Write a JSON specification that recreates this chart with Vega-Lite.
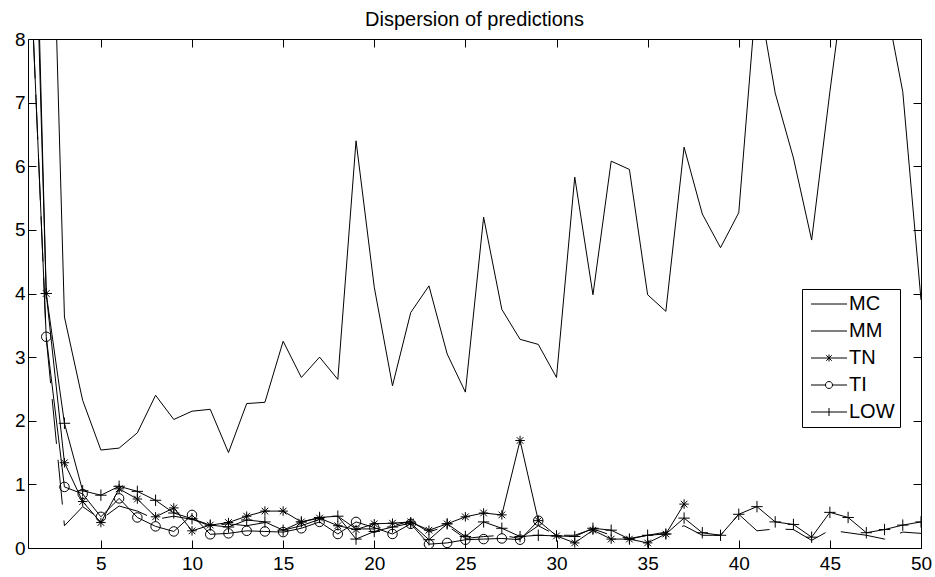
{
  "$schema": "https://vega.github.io/schema/vega-lite/v6.json",
  "autosize": {"type": "none"},
  "padding": {"left": 28, "top": 39, "right": 14, "bottom": 29},
  "width": 893,
  "height": 509,
  "background": "white",
  "title": {"text": "Dispersion of predictions", "font": "Liberation Sans", "fontSize": 20, "fontWeight": "normal", "color": "black", "offset": 0},
  "config": {
    "view": {"stroke": "black", "strokeWidth": 1},
    "axis": {"grid": false, "domain": false, "ticks": true, "zindex": 1, "tickColor": "black", "tickOpacity": 1, "tickSize": -8, "tickWidth": 1, "labelColor": "black", "labelFont": "Liberation Sans", "labelFontSize": 19, "labelFlush": false, "labelOverlap": false, "title": null}
  },
  "data": {"values": [
    {"x":1,"s":"MC","y":20},{"x":2,"s":"MC","y":13.9},{"x":3,"s":"MC","y":3.63},{"x":4,"s":"MC","y":2.32},{"x":5,"s":"MC","y":1.54},{"x":6,"s":"MC","y":1.57},{"x":7,"s":"MC","y":1.81},{"x":8,"s":"MC","y":2.4},{"x":9,"s":"MC","y":2.02},{"x":10,"s":"MC","y":2.15},
    {"x":11,"s":"MC","y":2.18},{"x":12,"s":"MC","y":1.5},{"x":13,"s":"MC","y":2.27},{"x":14,"s":"MC","y":2.29},{"x":15,"s":"MC","y":3.25},{"x":16,"s":"MC","y":2.68},{"x":17,"s":"MC","y":3.0},{"x":18,"s":"MC","y":2.65},{"x":19,"s":"MC","y":6.4},{"x":20,"s":"MC","y":4.1},
    {"x":21,"s":"MC","y":2.55},{"x":22,"s":"MC","y":3.7},{"x":23,"s":"MC","y":4.12},{"x":24,"s":"MC","y":3.05},{"x":25,"s":"MC","y":2.45},{"x":26,"s":"MC","y":5.2},{"x":27,"s":"MC","y":3.75},{"x":28,"s":"MC","y":3.28},{"x":29,"s":"MC","y":3.2},{"x":30,"s":"MC","y":2.68},
    {"x":31,"s":"MC","y":5.83},{"x":32,"s":"MC","y":3.98},{"x":33,"s":"MC","y":6.08},{"x":34,"s":"MC","y":5.95},{"x":35,"s":"MC","y":3.98},{"x":36,"s":"MC","y":3.72},{"x":37,"s":"MC","y":6.3},{"x":38,"s":"MC","y":5.25},{"x":39,"s":"MC","y":4.72},{"x":40,"s":"MC","y":5.27},
    {"x":41,"s":"MC","y":8.82},{"x":42,"s":"MC","y":7.15},{"x":43,"s":"MC","y":6.13},{"x":44,"s":"MC","y":4.84},{"x":45,"s":"MC","y":7.17},{"x":46,"s":"MC","y":9.35},{"x":47,"s":"MC","y":10},{"x":48,"s":"MC","y":8.67},{"x":49,"s":"MC","y":7.17},{"x":50,"s":"MC","y":3.9},

    {"x":1,"s":"MM","y":10},{"x":2,"s":"MM","y":3.3},{"x":3,"s":"MM","y":0.35},{"x":4,"s":"MM","y":0.65},{"x":5,"s":"MM","y":0.45},{"x":6,"s":"MM","y":0.66},{"x":7,"s":"MM","y":0.58},{"x":8,"s":"MM","y":0.45},{"x":9,"s":"MM","y":0.5},{"x":10,"s":"MM","y":0.45},
    {"x":11,"s":"MM","y":0.35},{"x":12,"s":"MM","y":0.38},{"x":13,"s":"MM","y":0.35},{"x":14,"s":"MM","y":0.4},{"x":15,"s":"MM","y":0.28},{"x":16,"s":"MM","y":0.35},{"x":17,"s":"MM","y":0.45},{"x":18,"s":"MM","y":0.5},{"x":19,"s":"MM","y":0.3},{"x":20,"s":"MM","y":0.3},
    {"x":21,"s":"MM","y":0.35},{"x":22,"s":"MM","y":0.42},{"x":23,"s":"MM","y":0.25},{"x":24,"s":"MM","y":0.35},{"x":25,"s":"MM","y":0.15},{"x":26,"s":"MM","y":0.18},{"x":27,"s":"MM","y":0.2},{"x":28,"s":"MM","y":0.15},{"x":29,"s":"MM","y":0.35},{"x":30,"s":"MM","y":0.2},
    {"x":31,"s":"MM","y":0.2},{"x":32,"s":"MM","y":0.3},{"x":33,"s":"MM","y":0.2},{"x":34,"s":"MM","y":0.15},{"x":35,"s":"MM","y":0.2},{"x":36,"s":"MM","y":0.25},{"x":37,"s":"MM","y":0.35},{"x":38,"s":"MM","y":0.2},{"x":39,"s":"MM","y":0.2},{"x":40,"s":"MM","y":0.53},
    {"x":41,"s":"MM","y":0.27},{"x":42,"s":"MM","y":0.3},{"x":43,"s":"MM","y":0.29},{"x":44,"s":"MM","y":0.12},{"x":45,"s":"MM","y":0.28},{"x":46,"s":"MM","y":0.24},{"x":47,"s":"MM","y":0.2},{"x":48,"s":"MM","y":0.14},{"x":49,"s":"MM","y":0.25},{"x":50,"s":"MM","y":0.23},

    {"x":1,"s":"TN","y":15},{"x":2,"s":"TN","y":4.0},{"x":3,"s":"TN","y":1.34},{"x":4,"s":"TN","y":0.73},{"x":5,"s":"TN","y":0.4},{"x":6,"s":"TN","y":0.93},{"x":7,"s":"TN","y":0.77},{"x":8,"s":"TN","y":0.49},{"x":9,"s":"TN","y":0.63},{"x":10,"s":"TN","y":0.27},
    {"x":11,"s":"TN","y":0.36},{"x":12,"s":"TN","y":0.4},{"x":13,"s":"TN","y":0.5},{"x":14,"s":"TN","y":0.58},{"x":15,"s":"TN","y":0.58},{"x":16,"s":"TN","y":0.41},{"x":17,"s":"TN","y":0.47},{"x":18,"s":"TN","y":0.35},{"x":19,"s":"TN","y":0.29},{"x":20,"s":"TN","y":0.38},
    {"x":21,"s":"TN","y":0.39},{"x":22,"s":"TN","y":0.41},{"x":23,"s":"TN","y":0.28},{"x":24,"s":"TN","y":0.38},{"x":25,"s":"TN","y":0.49},{"x":26,"s":"TN","y":0.55},{"x":27,"s":"TN","y":0.52},{"x":28,"s":"TN","y":1.69},{"x":29,"s":"TN","y":0.43},{"x":30,"s":"TN","y":0.19},
    {"x":31,"s":"TN","y":0.08},{"x":32,"s":"TN","y":0.28},{"x":33,"s":"TN","y":0.14},{"x":34,"s":"TN","y":0.14},{"x":35,"s":"TN","y":0.08},{"x":36,"s":"TN","y":0.22},{"x":37,"s":"TN","y":0.69},

    {"x":1,"s":"TI","y":10},{"x":2,"s":"TI","y":3.32},{"x":3,"s":"TI","y":0.96},{"x":4,"s":"TI","y":0.85},{"x":5,"s":"TI","y":0.49},{"x":6,"s":"TI","y":0.78},{"x":7,"s":"TI","y":0.48},{"x":8,"s":"TI","y":0.34},{"x":9,"s":"TI","y":0.26},{"x":10,"s":"TI","y":0.52},
    {"x":11,"s":"TI","y":0.215},{"x":12,"s":"TI","y":0.23},{"x":13,"s":"TI","y":0.27},{"x":14,"s":"TI","y":0.26},{"x":15,"s":"TI","y":0.25},{"x":16,"s":"TI","y":0.31},{"x":17,"s":"TI","y":0.41},{"x":18,"s":"TI","y":0.22},{"x":19,"s":"TI","y":0.41},{"x":20,"s":"TI","y":0.32},
    {"x":21,"s":"TI","y":0.22},{"x":22,"s":"TI","y":0.38},{"x":23,"s":"TI","y":0.06},{"x":24,"s":"TI","y":0.08},{"x":25,"s":"TI","y":0.13},{"x":26,"s":"TI","y":0.14},{"x":27,"s":"TI","y":0.15},{"x":28,"s":"TI","y":0.13},{"x":29,"s":"TI","y":0.43},

    {"x":1,"s":"LOW","y":14},{"x":2,"s":"LOW","y":4.0},{"x":3,"s":"LOW","y":1.96},{"x":4,"s":"LOW","y":0.9},{"x":5,"s":"LOW","y":0.83},{"x":6,"s":"LOW","y":0.97},{"x":7,"s":"LOW","y":0.89},{"x":8,"s":"LOW","y":0.75},{"x":9,"s":"LOW","y":0.55},{"x":10,"s":"LOW","y":0.46},
    {"x":11,"s":"LOW","y":0.36},{"x":12,"s":"LOW","y":0.33},{"x":13,"s":"LOW","y":0.44},{"x":14,"s":"LOW","y":0.41},{"x":15,"s":"LOW","y":0.28},{"x":16,"s":"LOW","y":0.41},{"x":17,"s":"LOW","y":0.48},{"x":18,"s":"LOW","y":0.5},{"x":19,"s":"LOW","y":0.14},{"x":20,"s":"LOW","y":0.26},
    {"x":21,"s":"LOW","y":0.33},{"x":22,"s":"LOW","y":0.39},{"x":23,"s":"LOW","y":0.13},{"x":24,"s":"LOW","y":0.38},{"x":25,"s":"LOW","y":0.18},{"x":26,"s":"LOW","y":0.41},{"x":27,"s":"LOW","y":0.31},{"x":28,"s":"LOW","y":0.18},{"x":29,"s":"LOW","y":0.2},{"x":30,"s":"LOW","y":0.19},
    {"x":31,"s":"LOW","y":0.18},{"x":32,"s":"LOW","y":0.31},{"x":33,"s":"LOW","y":0.28},{"x":34,"s":"LOW","y":0.14},{"x":35,"s":"LOW","y":0.2},{"x":36,"s":"LOW","y":0.22},{"x":37,"s":"LOW","y":0.47},{"x":38,"s":"LOW","y":0.24},{"x":39,"s":"LOW","y":0.2},{"x":40,"s":"LOW","y":0.53},
    {"x":41,"s":"LOW","y":0.65},{"x":42,"s":"LOW","y":0.41},{"x":43,"s":"LOW","y":0.37},{"x":44,"s":"LOW","y":0.17},{"x":45,"s":"LOW","y":0.56},{"x":46,"s":"LOW","y":0.48},{"x":47,"s":"LOW","y":0.24},{"x":48,"s":"LOW","y":0.29},{"x":49,"s":"LOW","y":0.36},{"x":50,"s":"LOW","y":0.41}
  ]},
  "resolve": {"axis": {"x": "independent", "y": "independent"}, "scale": {"shape": "independent"}, "legend": {"shape": "independent"}},
  "layer": [
    {
      "transform": [{"filter": {"field": "s", "oneOf": ["MC","TN","TI","LOW"]}}],
      "mark": {"type": "line", "clip": true, "color": "black", "strokeWidth": 1},
      "encoding": {
        "x": {"field": "x", "type": "quantitative", "scale": {"domain": [1, 50], "nice": false, "zero": false}, "axis": {"orient": "bottom", "values": [5,10,15,20,25,30,35,40,45,50], "labelPadding": 14, "ticks": true, "tickSize": -8, "tickColor": "black", "tickWidth": 1, "zindex": 1}},
        "y": {"field": "y", "type": "quantitative", "scale": {"domain": [0, 8], "nice": false, "zero": false}, "axis": {"orient": "left", "values": [0,1,2,3,4,5,6,7,8], "labelPadding": 11, "ticks": true, "tickSize": -8, "tickColor": "black", "tickWidth": 1, "zindex": 1}},
        "detail": {"field": "s", "type": "nominal"},
        "order": {"field": "x", "type": "quantitative"}
      }
    },
    {
      "transform": [{"filter": {"field": "s", "equal": "MM"}}],
      "mark": {"type": "line", "clip": true, "color": "black", "strokeWidth": 1, "strokeDash": [45, 16]},
      "encoding": {
        "x": {"field": "x", "type": "quantitative", "axis": null},
        "y": {"field": "y", "type": "quantitative", "axis": null},
        "order": {"field": "x", "type": "quantitative"}
      }
    },
    {
      "transform": [{"filter": {"field": "s", "oneOf": ["TN","TI","LOW"]}}],
      "mark": {"type": "point", "clip": true, "filled": false, "color": "black", "strokeWidth": 1, "size": 90, "opacity": 1},
      "encoding": {
        "x": {"field": "x", "type": "quantitative", "axis": null},
        "y": {"field": "y", "type": "quantitative", "axis": null},
        "shape": {"field": "s", "type": "nominal",
          "scale": {"domain": ["MC","MM","TN","TI","LOW"], "range": ["M-1,0L1,0", "M-1,0L1,0", "M-1,0L1,0M0,-1L0,1M-0.7,-0.7L0.7,0.7M-0.7,0.7L0.7,-0.7", "circle", "M-1.2,0L1.2,0M0,-1.2L0,1.2"]},
          "legend": null
        }
      }
    },
    {
      "transform": [{"filter": {"field": "y", "gt": 8}}],
      "mark": {"type": "point", "clip": true, "filled": false, "color": "black", "strokeWidth": 1, "size": 100, "opacity": 1},
      "encoding": {
        "x": {"field": "x", "type": "quantitative", "axis": null},
        "y": {"field": "y", "type": "quantitative", "axis": null},
        "shape": {"field": "s", "type": "nominal",
          "scale": {"domain": ["MC","MM","TN","TI","LOW"], "range": [
            "M-3.6,0L3.6,0",
            "M-3.6,0L3.6,0",
            "M-3.6,0L3.6,0M0,-0.7L0,0.7M-0.55,-0.55L0.55,0.55M-0.55,0.55L0.55,-0.55",
            "M-3.6,0L-0.7,0M0.7,0L3.6,0M-0.7,0A0.7,0.7,0,1,0,0.7,0A0.7,0.7,0,1,0,-0.7,0",
            "M-3.6,0L3.6,0M0,-0.8L0,0.8"]},
          "legend": {
            "orient": "none", "legendX": 774, "legendY": 250, "title": null,
            "strokeColor": "black", "fillColor": "white", "padding": 5,
            "symbolSize": 100, "symbolOffset": 12, "labelOffset": 10, "rowPadding": 7,
            "labelFont": "Liberation Sans", "labelFontSize": 20, "labelColor": "black",
            "symbolStrokeWidth": 1, "symbolStrokeColor": "black", "symbolFillColor": "transparent"
          }
        }
      }
    },
    {
      "mark": {"type": "point", "opacity": 0, "clip": true},
      "encoding": {
        "x": {"field": "x", "type": "quantitative", "axis": {"orient": "top", "values": [5,10,15,20,25,30,35,40,45,50], "labels": false, "ticks": true, "tickSize": -8, "tickColor": "black", "tickWidth": 1, "zindex": 1}},
        "y": {"field": "y", "type": "quantitative", "axis": {"orient": "right", "values": [0,1,2,3,4,5,6,7,8], "labels": false, "ticks": true, "tickSize": -8, "tickColor": "black", "tickWidth": 1, "zindex": 1}}
      }
    }
  ]
}
